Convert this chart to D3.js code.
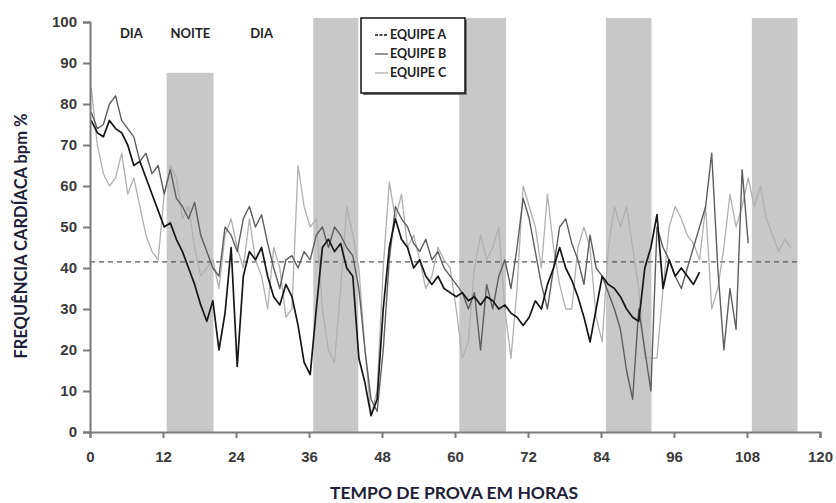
<!DOCTYPE html>
<html lang="pt">
<head>
    <meta charset="UTF-8">
    <title>Frequência cardíaca</title>
    <script src="https://d3js.org/d3.v7.min.js"></script>
    <style>
        body { margin: 0; background: #fff; }
    </style>
</head>
<body>
<script>
// hourly values, % bpm
const equipeA = [76,73,72,76,74,73,70,65,66,62,58,54,50,51,47,44,40,36,31,27,32,20,29,45,16,38,44,42,45,38,33,31,36,33,26,17,14,30,45,47,44,46,40,38,18,12,4,8,30,45,52,47,45,40,42,38,36,38,35,34,33,34,32,33,31,33,32,30,31,29,28,26,28,32,30,36,40,45,40,37,33,28,22,30,38,36,35,33,30,28,27,40,45,53,35,42,38,40,38,36,39];
const equipeB = [78,74,75,80,82,76,74,72,66,68,63,65,58,64,57,55,52,56,48,44,40,38,50,48,44,52,55,50,53,46,40,35,42,43,40,44,42,48,50,45,50,48,45,43,35,20,8,5,20,42,55,52,50,46,44,47,42,44,40,38,36,34,30,34,20,36,30,38,42,35,45,57,52,44,36,30,40,50,52,46,42,36,48,40,38,34,30,25,15,8,30,20,10,50,45,42,38,35,40,45,50,55,68,40,20,35,25,64,46];
const equipeC = [84,70,63,60,62,68,58,62,55,48,44,42,58,65,62,52,55,45,38,40,42,35,48,52,45,40,52,42,38,30,45,40,28,30,65,55,50,52,30,20,17,35,55,48,40,20,4,10,40,61,52,58,45,48,42,35,38,45,42,40,30,18,22,40,48,42,45,50,30,18,35,60,55,50,40,58,45,36,30,30,45,50,45,28,22,45,55,50,55,45,35,18,18,18,35,50,55,52,48,46,42,55,30,35,45,58,50,55,62,55,60,52,48,44,47,45];

// night periods (start hour, end hour, top of band)
const noiteInicio = [12.6, 36.7, 60.7, 84.8, 108.8];
const noiteFim    = [20.3, 44.1, 68.4, 92.3, 116.3];
const noiteTopo   = [87.6, 101, 101, 101, 101];

const mediaRef = 41.5;
const xTicks = [0, 12, 24, 36, 48, 60, 72, 84, 96, 108, 120];
const yTicks = [0, 10, 20, 30, 40, 50, 60, 70, 80, 90, 100];
const nomes = ["EQUIPE A", "EQUIPE B", "EQUIPE C"];
const rotulosPeriodo = [["DIA", 6.8], ["NOITE", 16.5], ["DIA", 28.2]];

const W = 836, H = 503;
const x = d3.scaleLinear().domain([0, 120]).range([90, 820]);
const y = d3.scaleLinear().domain([0, 100]).range([432, 22]);

const svg = d3.select("body").append("svg")
    .attr("width", W)
    .attr("height", H);

// night bands
svg.selectAll("rect.noite")
    .data(noiteInicio.map((d, i) => ({a: d, b: noiteFim[i], t: noiteTopo[i]})))
    .enter().append("rect")
    .attr("class", "noite")
    .attr("x", d => x(d.a))
    .attr("width", d => x(d.b) - x(d.a))
    .attr("y", d => y(d.t))
    .attr("height", d => y(0) - y(d.t))
    .attr("fill", "#c8c8c8");

// dashed reference line
svg.append("line")
    .attr("x1", x(0)).attr("x2", x(116.3))
    .attr("y1", y(mediaRef)).attr("y2", y(mediaRef))
    .attr("stroke", "#555")
    .attr("stroke-width", 1.3)
    .attr("stroke-dasharray", "5,4");

// series
const line = d3.line().x((d, i) => x(i + 0.2)).y(d => y(d));
const series = [
    {v: equipeC, c: "#b0b0b0", w: 1.3},
    {v: equipeB, c: "#5e5e5e", w: 1.4},
    {v: equipeA, c: "#161616", w: 1.7}
];
svg.selectAll("path.serie")
    .data(series)
    .enter().append("path")
    .attr("class", "serie")
    .attr("d", d => line(d.v))
    .attr("fill", "none")
    .attr("stroke", d => d.c)
    .attr("stroke-width", d => d.w)
    .attr("stroke-linejoin", "round");

// axes
const axisY = svg.append("g")
    .attr("transform", `translate(${x(0)},0)`)
    .call(d3.axisLeft(y).tickValues(yTicks).tickSize(7).tickPadding(6));
const axisX = svg.append("g")
    .attr("transform", `translate(0,${y(0)})`)
    .call(d3.axisBottom(x).tickValues(xTicks).tickSize(6).tickPadding(13));
[axisY, axisX].forEach(g => {
    g.select(".domain").attr("stroke", "#7a7a7a").attr("stroke-width", 2);
    g.selectAll(".tick line").attr("stroke", "#7a7a7a").attr("stroke-width", 2);
    g.selectAll(".tick text")
        .attr("fill", "#3a3a3a")
        .style("font-family", "'Liberation Sans', Arial, sans-serif")
        .style("font-weight", "bold")
        .style("font-size", "15px");
});

// period labels
svg.selectAll("text.periodo")
    .data(rotulosPeriodo)
    .enter().append("text")
    .attr("class", "periodo")
    .attr("x", d => x(d[1]))
    .attr("y", 38)
    .attr("text-anchor", "middle")
    .style("font-family", "Lato, 'Open Sans', sans-serif")
    .style("font-weight", "bold")
    .style("font-size", "13px")
    .attr("fill", "#222")
    .text(d => d[0]);

// axis titles
svg.append("text")
    .attr("transform", "translate(27,236) rotate(-90)")
    .attr("text-anchor", "middle")
    .style("font-family", "Lato, 'Open Sans', sans-serif")
    .style("font-weight", "bold")
    .style("font-size", "16.5px")
    .attr("fill", "#1e1e38")
    .text("FREQUÊNCIA CARDÍACA bpm %");

svg.append("text")
    .attr("x", 454)
    .attr("y", 499)
    .attr("text-anchor", "middle")
    .style("font-family", "Lato, 'Open Sans', sans-serif")
    .style("font-weight", "bold")
    .style("font-size", "17.5px")
    .attr("fill", "#1e1e38")
    .text("TEMPO DE PROVA EM HORAS");

// legend
const leg = svg.append("g").attr("transform", "translate(361,18)");
leg.append("rect")
    .attr("x", 2).attr("y", 2).attr("width", 104).attr("height", 75)
    .attr("fill", "#777");
leg.append("rect")
    .attr("width", 104).attr("height", 75)
    .attr("fill", "#fff").attr("stroke", "#111").attr("stroke-width", 1.5);
const items = leg.selectAll("g.item")
    .data(nomes)
    .enter().append("g")
    .attr("class", "item")
    .attr("transform", (d, i) => `translate(0,${17 + i * 19})`);
items.append("line")
    .attr("x1", 14).attr("x2", 27)
    .attr("stroke", (d, i) => series[2 - i].c)
    .attr("stroke-width", 1.3)
    .attr("stroke-dasharray", (d, i) => i === 0 ? "3,1.5" : null);
items.append("text")
    .attr("x", 29).attr("y", 4)
    .style("font-family", "Lato, 'Open Sans', sans-serif")
    .style("font-weight", "bold")
    .style("font-size", "12.5px")
    .attr("fill", "#222")
    .text(d => d);
</script>
</body>
</html>
